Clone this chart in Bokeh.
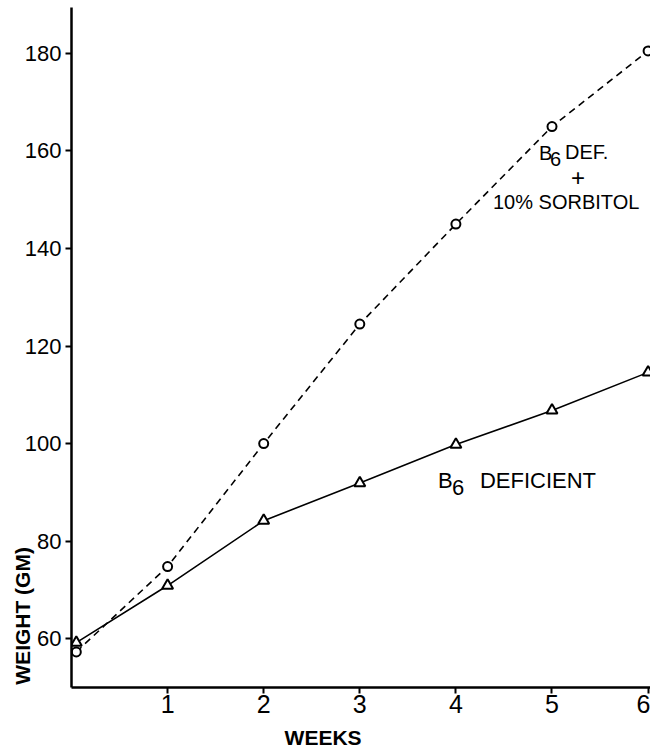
from bokeh.plotting import figure
from bokeh.models import FixedTicker, Label, ColumnDataSource, Range1d
from bokeh.embed import file_html
from bokeh.resources import INLINE

# ---- data ----
weeks = [0.05, 1, 2, 3, 4, 5, 6]
sorbitol_weight = [57.3, 74.8, 100.0, 124.5, 145.0, 165.0, 180.5]
deficient_weight = [59.2, 70.9, 84.2, 91.9, 99.8, 106.8, 114.6]
x_ticks = [1, 2, 3, 4, 5, 6]
y_ticks = [60, 80, 100, 120, 140, 160, 180]

FONT = "Liberation Sans"
NBSP = "\u00a0"

p = figure(width=650, height=751, output_backend="svg", toolbar_location=None,
           x_range=Range1d(0, 6.025), y_range=Range1d(50, 189.4),
           min_border_left=71, min_border_right=0, min_border_top=7, min_border_bottom=62)
p.outline_line_color = None
p.xgrid.visible = False
p.ygrid.visible = False
p.background_fill_color = "white"
p.border_fill_color = "white"

for ax in (p.xaxis[0], p.yaxis[0]):
    ax.axis_line_width = 2.5
    ax.axis_line_color = "black"
    ax.major_tick_line_width = 2
    ax.major_tick_line_color = "black"
    ax.major_tick_in = 0
    ax.major_tick_out = 6
    ax.minor_tick_line_color = None
    ax.major_label_text_font = FONT
    ax.major_label_text_color = "black"
    ax.major_label_text_font_size = "22px"
    ax.axis_label_text_font = FONT
    ax.axis_label_text_font_style = "bold"
    ax.axis_label_text_font_size = "21px"
    ax.axis_label_text_color = "black"

p.xaxis.ticker = FixedTicker(ticks=x_ticks)
p.yaxis.ticker = FixedTicker(ticks=y_ticks)
p.xaxis.major_label_standoff = 1
p.yaxis.major_label_standoff = 4
p.xaxis.major_label_text_font_size = "25px"

# axis titles (non-breaking padding shifts the centred title along its axis)
p.xaxis.axis_label = "WEEKS" + NBSP * 13
p.xaxis.axis_label_standoff = 10
p.yaxis.axis_label = "WEIGHT (GM)" + NBSP * 92
p.yaxis.axis_label_standoff = -12

src_s = ColumnDataSource(dict(x=weeks, y=sorbitol_weight))
src_d = ColumnDataSource(dict(x=weeks, y=deficient_weight))

p.line("x", "y", source=src_s, line_color="black", line_width=1.6, line_dash="7 5")
p.scatter("x", "y", source=src_s, marker="circle", size=9, line_color="black",
          line_width=2, fill_color="white")
p.line("x", "y", source=src_d, line_color="black", line_width=1.6)
p.scatter("x", "y", source=src_d, marker="triangle", size=11, line_color="black",
          line_width=2, fill_color="white")

def lab(x, y, text, size, align="left", bold=False):
    p.add_layout(Label(x=x, y=y, text=text, text_font=FONT, text_font_size=size,
                       text_align=align, text_baseline="middle",
                       text_color="black",
                       text_font_style="bold" if bold else "normal"))

# upper curve label
lab(4.865, 159.55, "B", "20px")
lab(4.98, 158.3, "6", "20px")
lab(5.135, 159.75, "DEF.", "20px")
lab(5.27, 154.6, "+", "24px", align="center")
lab(4.386, 149.5, "10% SORBITOL", "20px")

# lower curve label
lab(3.815, 92.5, "B", "22px")
lab(3.96, 91.0, "6", "22px")
lab(4.25, 92.5, "DEFICIENT", "22px")

open("out.html", "w").write(file_html(p, INLINE))
